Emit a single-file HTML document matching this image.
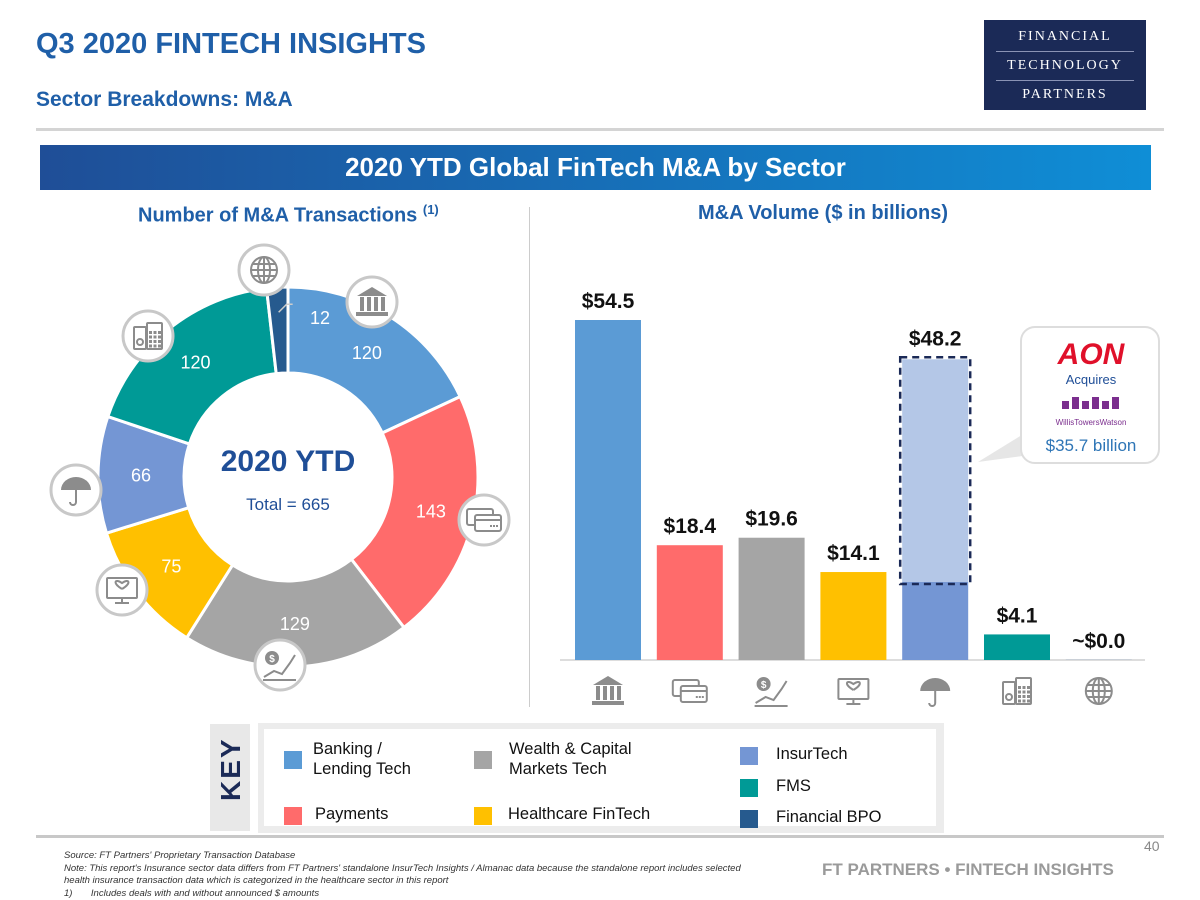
<!DOCTYPE html>
<html><head><meta charset="utf-8"><style>
body{margin:0;width:1200px;height:900px;background:#fff;font-family:"Liberation Sans","DejaVu Sans",sans-serif;position:relative;overflow:hidden}
.abs{position:absolute}
</style></head><body>
<div class="abs" style="left:36px;top:28px;font-size:29px;font-weight:bold;color:#1f5fa8">Q3 2020 FINTECH INSIGHTS</div>
<div class="abs" style="left:36px;top:88px;font-size:21px;font-weight:bold;color:#1f5fa8">Sector Breakdowns: M&amp;A</div>
<div class="abs" style="left:984px;top:20px;width:162px;height:90px;background:#1b2a57;color:#fff;font-family:'Liberation Serif',serif;font-size:14px;letter-spacing:2px;text-align:center;line-height:20px;padding-top:7px;box-sizing:border-box">FINANCIAL<br><span style="display:block;border-top:1px solid #8a93b5;border-bottom:1px solid #8a93b5;margin:4px 12px;padding:4px 0">TECHNOLOGY</span>PARTNERS</div>
<div class="abs" style="left:36px;top:128px;width:1128px;height:3px;background:#d4d4d4"></div>
<div class="abs" style="left:40px;top:145px;width:1111px;height:45px;background:linear-gradient(90deg,#1f4e97,#0f8ed6);color:#fff;font-size:26px;font-weight:bold;text-align:center;line-height:45px">2020 YTD Global FinTech M&amp;A by Sector</div>
<div class="abs" style="left:138px;top:202px;font-size:20px;font-weight:bold;color:#1f5fa8">Number of M&amp;A Transactions <sup style="font-size:13px">(1)</sup></div>
<div class="abs" style="left:698px;top:202px;font-size:20px;font-weight:bold;color:#1f5fa8">M&amp;A Volume ($ in billions)</div>
<div class="abs" style="left:529px;top:207px;width:1px;height:500px;background:#ccc"></div>
<svg class="abs" style="left:0;top:0" width="1200" height="900" id="chart"></svg>
<div class="abs" style="left:210px;top:724px;width:40px;height:107px;background:#e8e8e8"></div>
<div class="abs" style="left:206px;top:760px;font-size:28px;font-weight:bold;color:#1b2a57;transform:rotate(-90deg);width:50px;text-align:center;letter-spacing:2px">KEY</div>
<div class="abs" style="left:258px;top:723px;width:686px;height:110px;background:#ececec"><div style="position:absolute;left:6px;top:6px;width:672px;height:97px;background:#fff"></div></div>
<div id="legend"></div>
<div class="abs" style="left:36px;top:835px;width:1128px;height:3px;background:#c8c8c8"></div>
<div class="abs" style="left:1144px;top:838px;font-size:14px;color:#888">40</div>
<div class="abs" style="left:64px;top:850px;font-size:9.5px;font-style:italic;color:#333;line-height:12.5px">Source: FT Partners' Proprietary Transaction Database<br>Note: This report's Insurance sector data differs from FT Partners' standalone InsurTech Insights / Almanac data because the standalone report includes selected<br>health insurance transaction data which is categorized in the healthcare sector in this report<br>1)&nbsp;&nbsp;&nbsp;&nbsp;&nbsp;&nbsp;&nbsp;Includes deals with and without announced $ amounts</div>
<div class="abs" style="left:822px;top:860px;font-size:17px;font-weight:bold;color:#9a9a9a">FT PARTNERS • FINTECH INSIGHTS</div>
<script>
const sectors=["Banking / Lending Tech","Payments","Wealth & Capital Markets Tech","Healthcare FinTech","InsurTech","FMS","Financial BPO"];
const colors=["#5b9bd5","#ff6b6b","#a5a5a5","#ffc000","#7496d4","#009a96","#265a8e"];
const dealCounts=[120,143,129,75,66,120,12];
const volumes=[54.5,18.4,19.6,14.1,12.5,4.1,0.02];
const volumeLabels=["$54.5","$18.4","$19.6","$14.1","$48.2","$4.1","~$0.0"];
const aonDeal=35.7;
const NS="http://www.w3.org/2000/svg";
const svg=document.getElementById('chart');
function mk(t,a,p){const e=document.createElementNS(NS,t);for(const k in a)e.setAttribute(k,a[k]);(p||svg).appendChild(e);return e;}
function icon(k,x,y){
  const g=mk('g',{transform:`translate(${x},${y})`,fill:'none',stroke:'#8c8c8c','stroke-width':2});
  
  
  if(k===0){mk('path',{d:'M-15,-6 L0,-15 L15,-6 Z',fill:'#8c8c8c',stroke:'none'},g);for(let i=0;i<4;i++)mk('rect',{x:-12+i*7,y:-5,width:4,height:14,fill:'#8c8c8c',stroke:'none'},g);mk('rect',{x:-16,y:10,width:32,height:4,fill:'#8c8c8c',stroke:'none'},g);}
  if(k===1){mk('rect',{x:-17,y:-11,width:26,height:16,rx:2},g);mk('rect',{x:-9,y:-5,width:26,height:16,rx:2,fill:'#fff'},g);mk('line',{x1:-9,y1:0,x2:17,y2:0},g);mk('line',{x1:6,y1:6,x2:14,y2:6,'stroke-dasharray':'2,1'},g);}
  if(k===2){mk('circle',{cx:-8,cy:-7,r:7,fill:'#8c8c8c',stroke:'none'},g);const t=mk('text',{x:-8,y:-3,'text-anchor':'middle','font-size':10,fill:'#fff',stroke:'none','font-weight':'bold'},g);t.textContent='$';mk('path',{d:'M-16,12 L-6,6 L2,9 L10,-2 L15,-10'},g);mk('line',{x1:-17,y1:15,x2:16,y2:15},g);}
  if(k===3){mk('rect',{x:-15,y:-12,width:30,height:20,rx:1},g);mk('path',{d:'M0,-1 C-10,-7 -7,-12 0,-7 C7,-12 10,-7 0,-1',},g);mk('line',{x1:0,y1:8,x2:0,y2:13},g);mk('line',{x1:-7,y1:13,x2:7,y2:13},g);}
  if(k===4){mk('path',{d:'M-15,0 A15,13 0 0 1 15,0 Z',fill:'#8c8c8c',stroke:'none'},g);mk('path',{d:'M0,0 L0,12 A3,3 0 0 1 -6,12'},g);}
  if(k===5){mk('rect',{x:-14,y:-9,width:12,height:22,rx:1},g);mk('rect',{x:-1,y:-13,width:15,height:26,rx:1},g);for(let r=0;r<4;r++)for(let c=0;c<3;c++)mk('rect',{x:1+c*4.5,y:-5+r*4.5,width:3,height:3,fill:'#8c8c8c',stroke:'none'},g);mk('circle',{cx:-8,cy:6,r:3},g);}
  if(k===6){mk('circle',{cx:0,cy:0,r:13},g);mk('ellipse',{cx:0,cy:0,rx:6,ry:13},g);mk('line',{x1:-13,y1:0,x2:13,y2:0},g);mk('line',{x1:-11,y1:-6,x2:11,y2:-6},g);mk('line',{x1:-11,y1:6,x2:11,y2:6},g);mk('line',{x1:0,y1:-13,x2:0,y2:13},g);}
}
// donut
const cx=288,cy=477,R=190,r=104;
const total=dealCounts.reduce((a,b)=>a+b,0);
let ang=0;
function pt(rad,a){return [cx+rad*Math.sin(a),cy-rad*Math.cos(a)];}
dealCounts.forEach((v,i)=>{
  const a0=ang,a1=ang+v/total*2*Math.PI;ang=a1;
  const [x0,y0]=pt(R,a0),[x1,y1]=pt(R,a1),[x2,y2]=pt(r,a1),[x3,y3]=pt(r,a0);
  const lg=(a1-a0)>Math.PI?1:0;
  const p=mk('path',{d:`M${x0},${y0}A${R},${R} 0 ${lg} 1 ${x1},${y1}L${x2},${y2}A${r},${r} 0 ${lg} 0 ${x3},${y3}Z`,fill:colors[i],stroke:'#fff','stroke-width':3});
  
  
  const am=(a0+a1)/2;
  let [lx,ly]=pt(147,am);
  if(v<20){const [sx,sy]=pt(165,am);mk('path',{d:`M${sx},${sy} l8,-8 l6,0`,stroke:'#ccc',fill:'none','stroke-width':1.5});lx=320;ly=318;}
  const t=mk('text',{x:lx,y:ly+6,'text-anchor':'middle','font-size':18,fill:'#fff','font-family':'Liberation Sans, sans-serif'});
  t.textContent=v;
  
  
});
const ct=mk('text',{x:cx,y:471,'text-anchor':'middle','font-size':30,'font-weight':'bold',fill:'#1f4e97'});ct.textContent='2020 YTD';


const ctt=mk('text',{x:cx,y:510,'text-anchor':'middle','font-size':17,fill:'#1f4e97'});ctt.textContent='Total = 665';


const iconPos=[[372,302],[484,520],[280,665],[122,590],[76,490],[148,336],[264,270]];
iconPos.forEach((p,i)=>{
  const c=mk('circle',{cx:p[0],cy:p[1],r:25,fill:'#fff',stroke:'#c8c8c8','stroke-width':3});
  
  
  icon(i,p[0],p[1]);
});
// bars
const base=660,scale=340/54.5,bx0=575,step=81.8,bw=66;
const y=v=>base-v*scale;
mk('line',{x1:560,y1:base,x2:1145,y2:base,stroke:'#bbb','stroke-width':1});
volumes.forEach((v,i)=>{
  const x=bx0+i*step;
  const b=mk('rect',{x:x,y:y(v),width:bw,height:base-y(v),fill:colors[i]});
  
  
  let top=y(v);
  if(i===4){
    const a=mk('rect',{x:x,y:y(v+aonDeal),width:bw,height:aonDeal*scale,fill:'#b4c7e7'});
    
    
    mk('rect',{x:x-2,y:y(v+aonDeal)-2,width:bw+4,height:aonDeal*scale+4,fill:'none',stroke:'#1b2a57','stroke-width':2.5,'stroke-dasharray':'7,5'});
    top=y(v+aonDeal)-2;
  }
  const t=mk('text',{x:x+bw/2,y:top-12,'text-anchor':'middle','font-size':21,'font-weight':'bold',fill:'#111'});
  t.textContent=volumeLabels[i];
  
  
  icon(i,x+bw/2,691);
});
// callout
mk('path',{d:'M978,462 L1030,430 L1030,455 Z',fill:'#e6e6e6'});
const cb=mk('rect',{x:1021,y:327,width:138,height:136,rx:14,fill:'#fff',stroke:'#ddd','stroke-width':2});


const t1=mk('text',{x:1091,y:364,'text-anchor':'middle','font-size':30,'font-weight':'bold','font-style':'italic',fill:'#e0102a'});t1.textContent='AON';
const t2=mk('text',{x:1091,y:384,'text-anchor':'middle','font-size':13,fill:'#1f4e97'});t2.textContent='Acquires';
for(let k=0;k<6;k++)mk('rect',{x:1062+k*10,y:397+(k%2?0:4),width:7,height:k%2?12:8,fill:'#7b2e8e'});
const t3=mk('text',{x:1091,y:425,'text-anchor':'middle','font-size':8,fill:'#7b2e8e'});t3.textContent='WillisTowersWatson';
const t4=mk('text',{x:1091,y:451,'text-anchor':'middle','font-size':17,fill:'#2e75b6'});t4.textContent='$35.7 billion';
// legend
const L=document.getElementById('legend');
const lp=[[284,741,"Banking /<br>Lending Tech",313],[284,797,"Payments",315],[474,741,"Wealth &amp; Capital<br>Markets Tech",509],[474,797,"Healthcare FinTech",508],[740,737,"InsurTech",776],[740,769,"FMS",776],[740,800,"Financial BPO",776]];
lp.forEach((p,i)=>{
  const sw=document.createElement('div');sw.className='abs';sw.style.cssText=`left:${p[0]}px;top:${p[1]+10}px;width:18px;height:18px;background:${colors[i]}`;
  
  
  const tx=document.createElement('div');tx.className='abs';tx.style.cssText=`left:${p[3]}px;top:${p[1]+(p[2].includes('<br>')?-2:7)}px;font-size:16.5px;color:#111;line-height:20px`;tx.innerHTML=p[2];
  
  
  L.appendChild(sw);L.appendChild(tx);
});
</script>
</body></html>
